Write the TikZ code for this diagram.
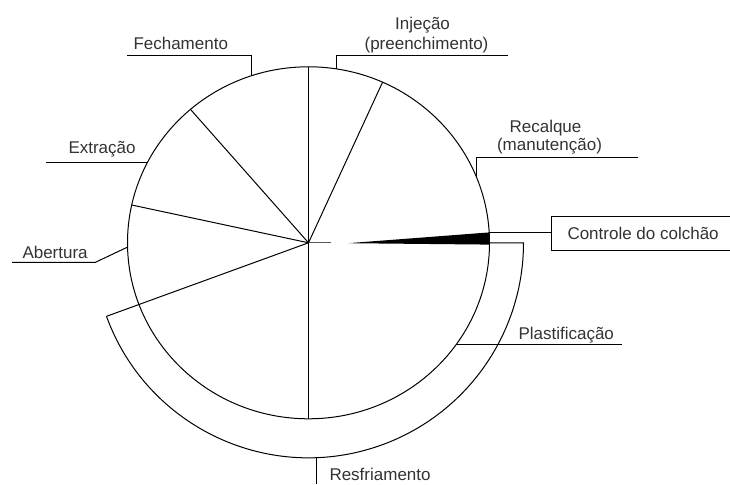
\documentclass[tikz,border=0pt]{standalone}
\usepackage{fontspec}
\setmainfont{Liberation Sans}
\usetikzlibrary{calc}
\begin{document}
\begin{tikzpicture}[x=1pt,y=1pt,line width=1pt,
  lbl/.style={font=\fontsize{17}{20}\selectfont, inner sep=0pt, text=black!80},
  boxstyle/.style={draw=black, lbl, inner xsep=16pt, minimum height=34.3pt, anchor=west}]
\useasboundingbox (0,0) rectangle (730,484);
\coordinate (C) at (308.5,241.2);
% main disc
\draw (C) ellipse [x radius=181pt, y radius=176pt];
% spokes
\foreach \a/\n in {90/up,65.85/ur,130.7/ul,167.6/lf,270/dn}{
  \coordinate (s\n) at ($(C)+(\a:181pt and 176pt)$);
  \draw (C) -- (s\n);
}
% outer band (Plastificacao)
\coordinate (sll) at ($(C)+(200:215pt)$);
\coordinate (iR) at ($(C)+(0:181pt and 176pt)$);
\draw (C) -- (sll);
\draw (sll) arc[start angle=200, end angle=360, radius=215pt] -- (iR);
% centre dash and wedge
\coordinate (d1) at (331,241.2);
\draw[line width=1.3pt, black!65] (C) -- (d1);
\coordinate (w0) at (348,240.8);
\coordinate (wt) at (489.4,251.6);
\coordinate (wb) at (489.5,239.4);
\fill (w0) -- (wt) -- (wb) -- cycle;
% box
\node[boxstyle] (box) at (551,250.2) {Controle do colchão};
\draw (wt) -- (wt -| box.west);
% Fechamento
\node[lbl, anchor=base west] (fech) at (133,434) {Fechamento};
\coordinate (fechC) at ($(C)+(108.2:181pt and 176pt)$);
\coordinate (fechL) at (127,428.3);
\draw (fechL) -- (fechL -| fechC) -- (fechC);
% Injecao
\node[lbl, anchor=base] (inj1) at (422.5,454.5) {Injeção};
\node[lbl, anchor=base] (inj2) at (426.5,434) {(preenchimento)};
\coordinate (injC) at ($(C)+(81.26:181pt and 176pt)$);
\coordinate (injR) at (508,428.3);
\draw (injR) -- (injR -| injC) -- (injC);
% Recalque
\node[lbl, anchor=base] (rec1) at (545.5,351.8) {Recalque};
\node[lbl, anchor=base] (rec2) at (549.5,333.5) {(manutenção)};
\coordinate (recC) at ($(C)+(21.9:181pt and 176pt)$);
\coordinate (recR) at (638,326.5);
\draw (recR) -- (recR -| recC) -- (recC);
% Extracao
\node[lbl, anchor=base west] (ext) at (68,330) {Extração};
\coordinate (extC) at ($(C)+(152.9:181pt and 176pt)$);
\draw (extC) -- (extC -| 46,0);
% Abertura
\node[lbl, anchor=base west] (abe) at (22,225.5) {Abertura};
\coordinate (abC) at ($(C)+(181.4:181pt and 176pt)$);
\coordinate (abL) at (12,221.5);
\coordinate (abK) at (95,221.5);
\draw (abL) -- (abK) -- (abC);
% Plastificacao
\node[lbl, anchor=base west] (pla) at (518,144.5) {Plastificação};
\coordinate (plC) at ($(C)+(324.8:181pt and 176pt)$);
\draw (plC) -- (plC -| 621.5,0);
% Resfriamento
\node[lbl, anchor=base west] (res) at (329,4) {Resfriamento};
\coordinate (resC) at ($(C)+(272.19:215pt)$);
\draw (resC) -- (resC |- 0,0);
\end{tikzpicture}
\end{document}
